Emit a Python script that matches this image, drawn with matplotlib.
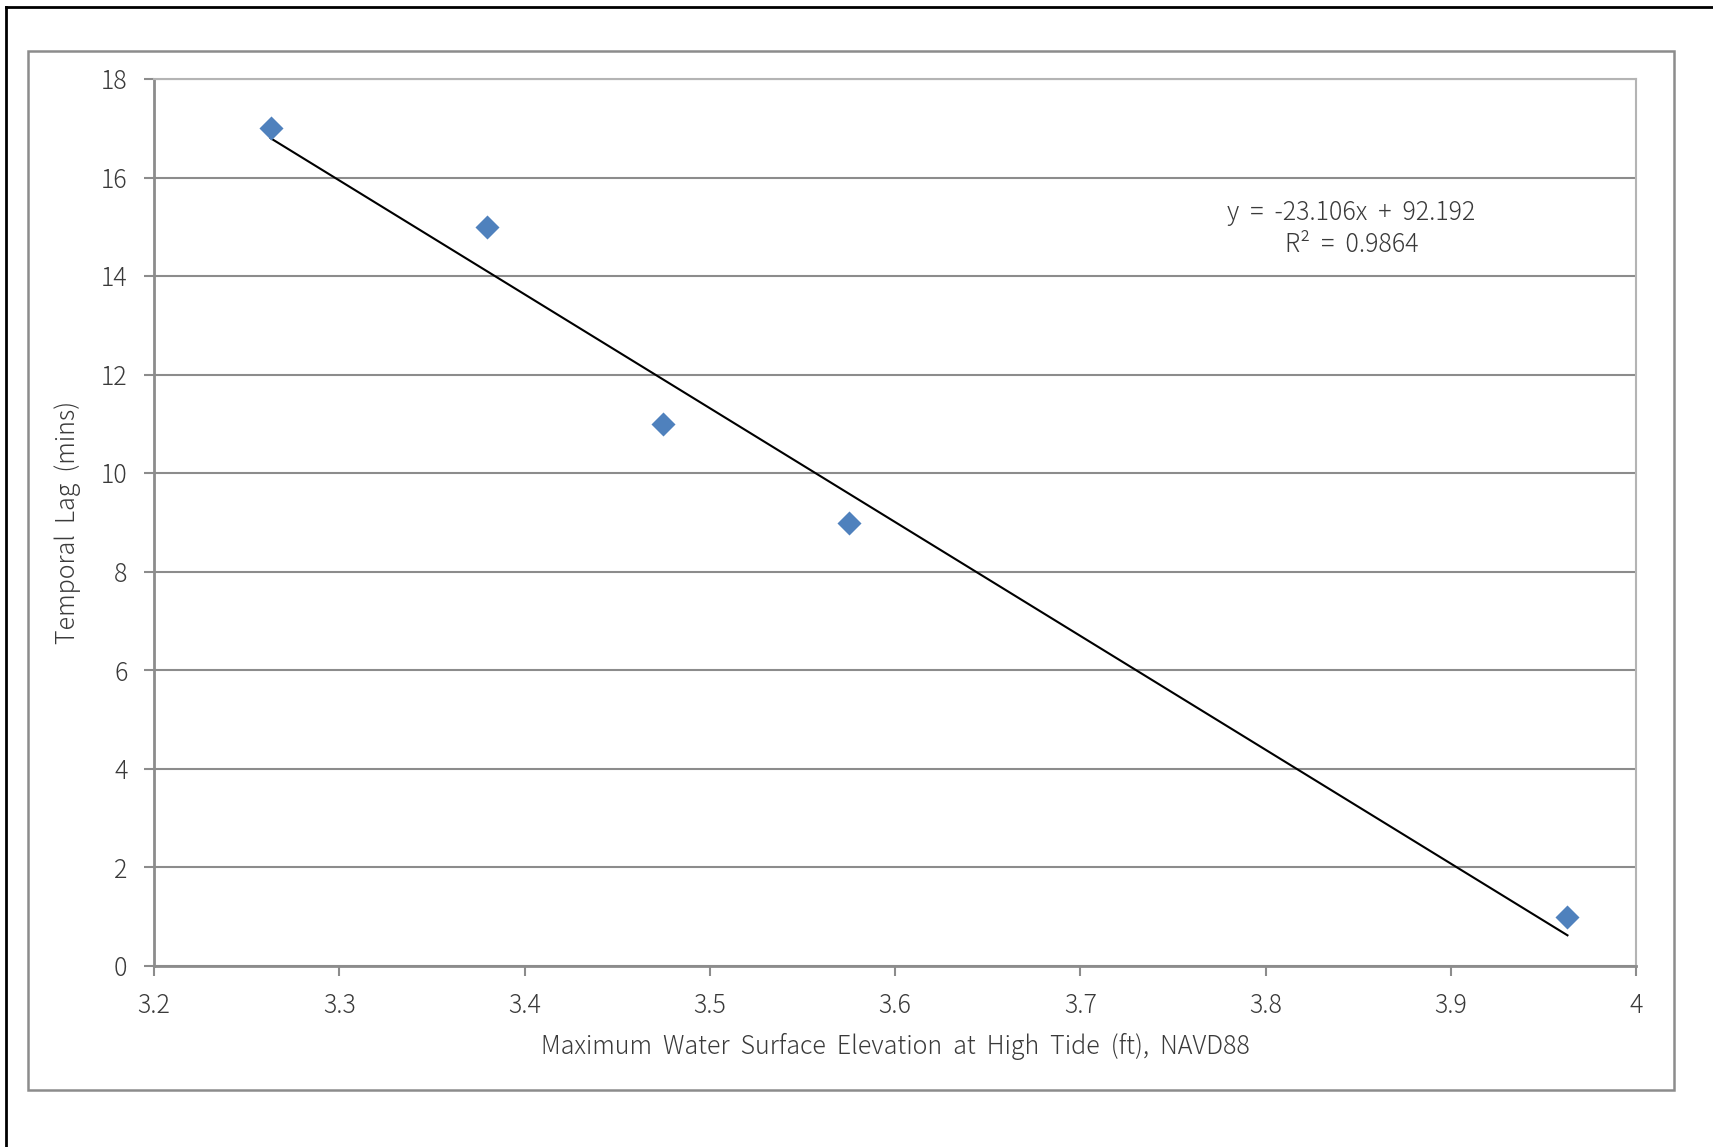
import numpy as np
import matplotlib
matplotlib.use("Agg")
import matplotlib.pyplot as plt
from matplotlib.patches import Rectangle
from matplotlib.lines import Line2D

# water surface elevation (ft, NAVD88) vs temporal lag (mins)
elevation = [3.263, 3.380, 3.475, 3.575, 3.963]
lag = [17, 15, 11, 9, 1]

# trendline as reported on the chart
trend_slope = -23.106
trend_intercept = 92.192
trend_r2 = 0.9864

x_ticks = [3.2, 3.3, 3.4, 3.5, 3.6, 3.7, 3.8, 3.9, 4.0]
x_tick_labels = ["3.2", "3.3", "3.4", "3.5", "3.6", "3.7", "3.8", "3.9", "4"]
y_ticks = [0, 2, 4, 6, 8, 10, 12, 14, 16, 18]

plt.rcParams['font.family'] = ['Noto Sans CJK JP', 'DejaVu Sans']
TXT = '#3a3a3a'
FS = 18

W, H = 1713, 1147
fig = plt.figure(figsize=(W / 100, H / 100), dpi=100)

# outer black frame (left + top only)
fig.add_artist(Line2D([6 / W, 6 / W], [0, 1 - 7 / H], color='black', lw=2,
                      transform=fig.transFigure))
fig.add_artist(Line2D([6 / W, 1], [1 - 7 / H, 1 - 7 / H], color='black', lw=2,
                      transform=fig.transFigure))

# chart area border
fig.add_artist(Rectangle((28 / W, 1 - 1090 / H), (1674 - 28) / W, (1090 - 51) / H,
                         fill=False, edgecolor='#8c8c8c', lw=1.8,
                         transform=fig.transFigure))

ax = fig.add_axes([154 / W, 1 - 966 / H, (1636 - 154) / W, (966 - 79) / H])

ax.scatter(elevation, lag, marker='D', s=150, color='#4F81BD', zorder=4,
           linewidths=0)

# linear trendline over the data range
xs = np.array([min(elevation), max(elevation)])
ax.plot(xs, trend_slope * xs + trend_intercept, color='black', lw=1.5, zorder=3)

ax.text(0.808, 0.831,
        f"y  =  {trend_slope:.3f}x  +  {trend_intercept:.3f}\nR²  =  {trend_r2:.4f}",
        transform=ax.transAxes, ha='center', va='center', fontsize=FS,
        color=TXT, linespacing=1.25, fontweight='light')

ax.set_xlim(3.2, 4.0)
ax.set_ylim(0, 18)
ax.set_xticks(x_ticks)
ax.set_xticklabels(x_tick_labels)
ax.set_yticks(y_ticks)

ax.grid(axis='y', color='#8c8c8c', lw=1.5)
ax.set_axisbelow(True)

for side in ['left', 'bottom']:
    ax.spines[side].set_color('#8c8c8c')
    ax.spines[side].set_linewidth(2)
for side in ['top', 'right']:
    ax.spines[side].set_color('#b4b4b4')
    ax.spines[side].set_linewidth(1.5)

ax.tick_params(axis='both', direction='out', length=7, width=1.5,
               color='#8c8c8c', labelsize=FS, labelcolor=TXT)
ax.tick_params(axis='x', pad=12)
ax.tick_params(axis='y', pad=12)
for lbl in ax.get_xticklabels() + ax.get_yticklabels():
    lbl.set_fontweight('light')

ax.set_xlabel("Maximum  Water  Surface  Elevation  at  High  Tide  (ft),  NAVD88",
              fontsize=FS, color=TXT, labelpad=10, fontweight='light')
ax.set_ylabel("Temporal  Lag  (mins)", fontsize=FS, color=TXT, labelpad=14,
              fontweight='light')

fig.savefig("out.png", dpi=100)
